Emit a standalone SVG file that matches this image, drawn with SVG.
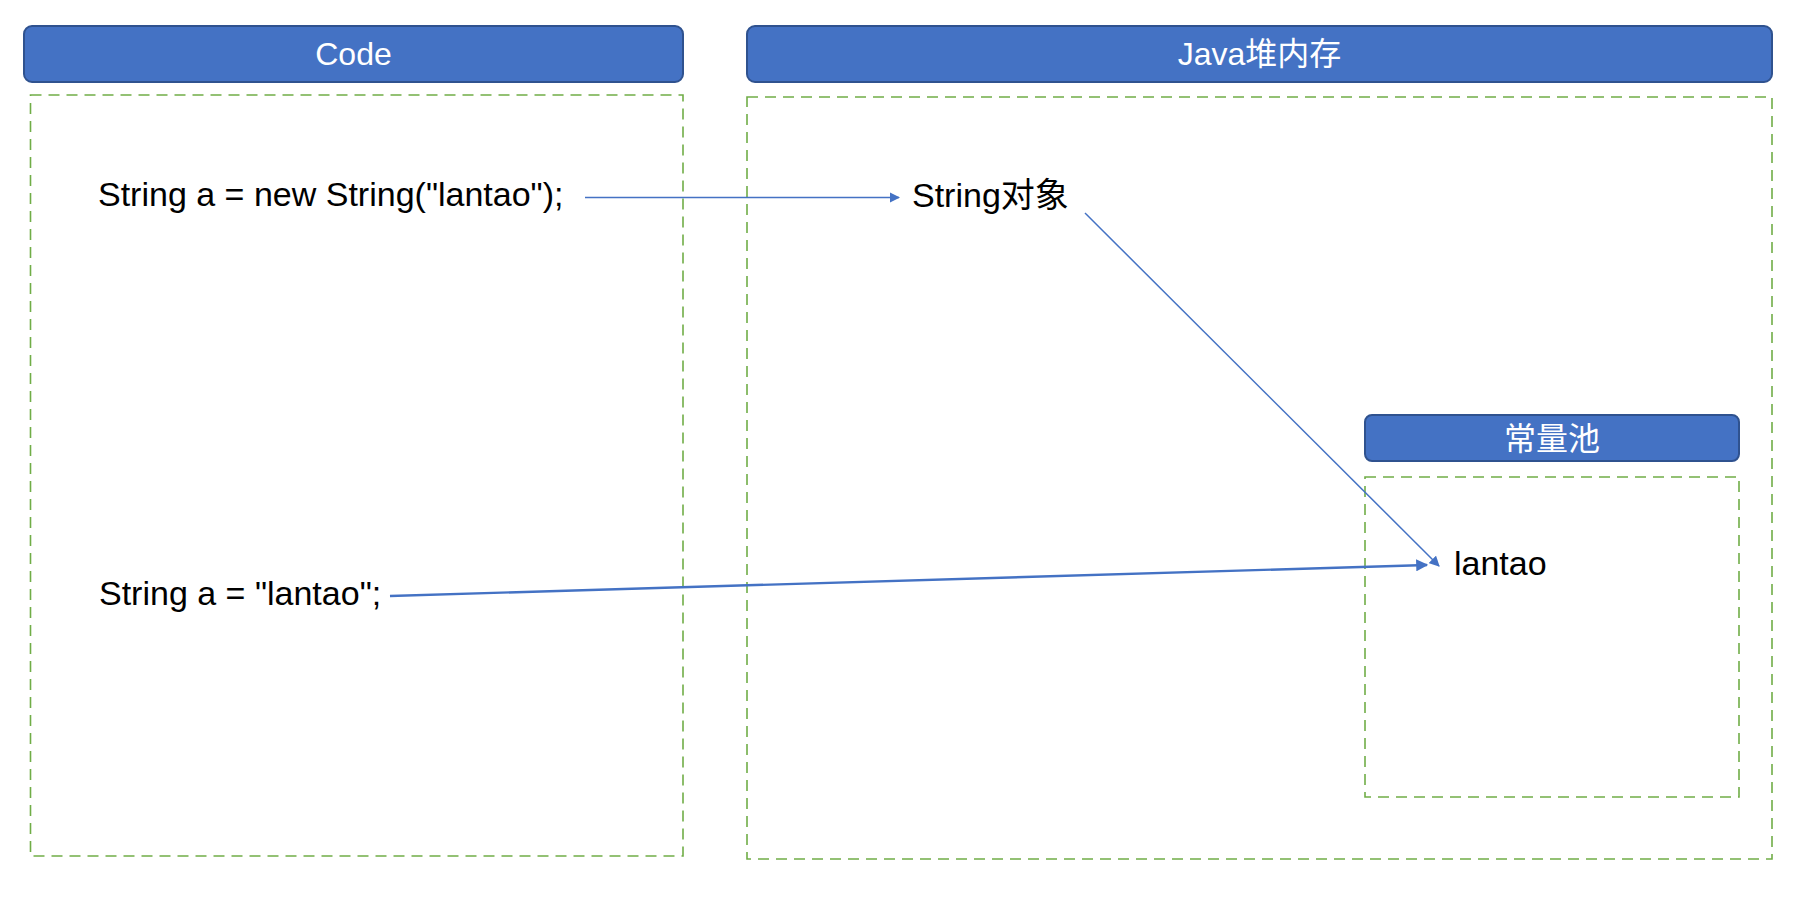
<svg xmlns="http://www.w3.org/2000/svg" width="1810" height="898" viewBox="0 0 1810 898">
<style>
.hdr{fill:#4472C4;stroke:#2F528F;stroke-width:2}
.ht{fill:#FFFFFF;font-family:"Liberation Sans","Noto Sans CJK SC",sans-serif;font-size:32px;text-anchor:middle}
.box{fill:none;stroke:#70AD47;stroke-width:1.6;stroke-dasharray:11 7}
.txt{fill:#000000;font-family:"Liberation Sans","Noto Sans CJK SC",sans-serif;font-size:34px}
.conn{fill:none;stroke:#4472C4;stroke-width:1.5}
</style>
<defs>
<marker id="arr" viewBox="0 0 10 10" refX="9" refY="5" markerWidth="7" markerHeight="7" markerUnits="strokeWidth" orient="auto">
<path d="M0,0 L10,5 L0,10 z" fill="#4472C4"/>
</marker>
<marker id="arr2" viewBox="0 0 10 10" refX="9" refY="5" markerWidth="5" markerHeight="5" markerUnits="strokeWidth" orient="auto">
<path d="M0,0 L10,5 L0,10 z" fill="#4472C4"/>
</marker>
</defs>
<rect width="1810" height="898" fill="#FFFFFF"/>
<g id="code">
<rect class="hdr" x="24" y="26" width="659" height="56" rx="8"/>
<text class="ht" x="353.5" y="65">Code</text>
<rect class="box" x="30.5" y="95" width="652.5" height="761"/>
</g>
<g id="heap">
<rect class="hdr" x="747" y="26" width="1025" height="56" rx="8"/>
<text class="ht" x="1259.5" y="65">Java堆内存</text>
<rect class="box" x="747" y="97" width="1025" height="762"/>
</g>
<g id="pool">
<rect class="hdr" x="1365" y="415" width="374" height="46" rx="7"/>
<text class="ht" x="1552" y="450">常量池</text>
<rect class="box" x="1365" y="477" width="374" height="320"/>
</g>
<g id="code1"><text class="txt" x="98" y="206">String a = new String("lantao");</text></g>
<g id="code2"><text class="txt" x="99" y="605">String a = "lantao";</text></g>
<g id="strobj"><text class="txt" x="912" y="207">String对象</text></g>
<g id="lantao"><text class="txt" x="1454" y="575">lantao</text></g>
<g id="connectors">
<line class="conn" x1="585" y1="197.5" x2="899" y2="197.5" marker-end="url(#arr)"/>
<line class="conn" x1="1085" y1="213" x2="1439" y2="566" marker-end="url(#arr)"/>
<line class="conn" style="stroke-width:2.4" x1="390" y1="596" x2="1427" y2="565" marker-end="url(#arr2)"/>
</g>
</svg>
